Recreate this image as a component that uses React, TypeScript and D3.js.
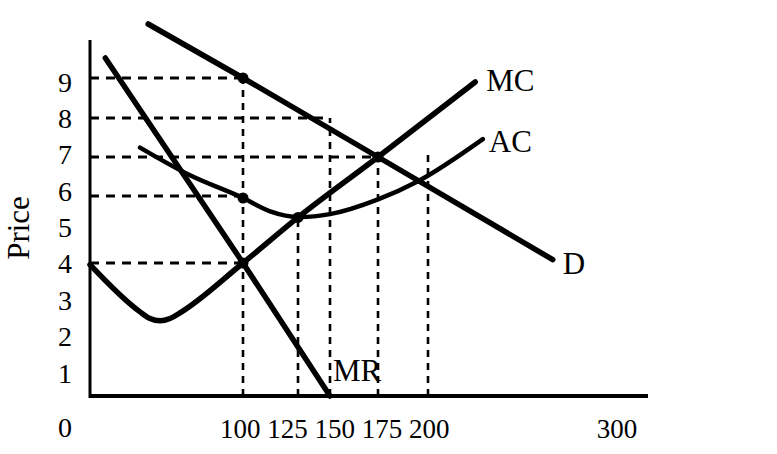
import React from 'react'
import { scaleLinear, line, curveMonotoneX } from 'd3'

// quantity / price readings taken off the diagram
const qtyTicks = [100, 125, 150, 175, 200]
const farTick = 300
const priceTicks = [1, 2, 3, 4, 5, 6, 7, 8, 9]

const demand: [number, number][] = [[38, 10.35], [100, 9], [175, 7], [266, 4.1]]
const marginalRevenue: [number, number][] = [[10, 9.5], [100, 4], [150, 0]]
const marginalCost: [number, number][] = [
  [0, 3.95], [32.7, 2.53], [39.2, 2.33], [45.8, 2.26], [52.3, 2.33], [58.8, 2.5],
  [100, 4], [125, 5.36], [175, 7], [225, 8.9]
]
const averageCost: [number, number][] = [
  [32.7, 7.24], [65.4, 6.53], [100, 5.94], [112, 5.55], [126.6, 5.37],
  [150, 5.46], [175, 5.9], [195, 6.38], [229, 7.46]
]
const keyPoints: [number, number][] = [[100, 9], [100, 5.94], [100, 4], [125, 5.36], [175, 7]]

// dashed guides: price level -> quantity where it stops, and quantity -> price where it stops
const priceGuides = [{ p: 9, q: 100 }, { p: 8, q: 150 }, { p: 7, q: 175 }, { p: 6, q: 100 }, { p: 4, q: 100 }]
const qtyGuides = [{ q: 100, p: 9 }, { q: 125, p: 5.36 }, { q: 150, p: 8 }, { q: 175, p: 7 }, { q: 200, p: 7.13 }]

const font = '"Liberation Serif", "Times New Roman", serif'

const App = () => {
  const width = 777
  const height = 454

  // the sketch is not drawn to a uniform scale, so both axes are piecewise
  const x = scaleLinear().domain([0, 100, 125, 150, 175, 200, 300]).range([90, 243, 298, 330, 378, 428, 617])
  const y = scaleLinear().domain([0, 4, 6, 7, 8, 9]).range([396, 263, 196, 157, 118, 78])
  const yLabel = scaleLinear().domain([1, 9]).range([373, 82])

  const straight = line<[number, number]>().x(d => x(d[0])).y(d => y(d[1]))
  const smooth = line<[number, number]>().x(d => x(d[0])).y(d => y(d[1])).curve(curveMonotoneX)

  const last = (arr: [number, number][]) => arr[arr.length - 1]

  return (
    <svg width={width} height={height} style={{ position: 'absolute', left: 0, top: 0, background: '#fff' }}>
      {/* dashed guides */}
      {priceGuides.map((g, i) => (
        <line key={'h' + i} x1={x(0)} x2={x(g.q)} y1={y(g.p)} y2={y(g.p)}
          stroke="#000" strokeWidth={3} strokeDasharray="9 7" />
      ))}
      {qtyGuides.map((g, i) => (
        <line key={'v' + i} x1={x(g.q)} x2={x(g.q)} y1={y(0)} y2={y(g.p)}
          stroke="#000" strokeWidth={2.6} strokeDasharray="7 6" />
      ))}

      {/* axes */}
      <line x1={x(0)} x2={x(0)} y1={40} y2={y(0) + 2} stroke="#000" strokeWidth={3} />
      <line x1={x(0)} x2={648} y1={y(0)} y2={y(0)} stroke="#000" strokeWidth={4} />

      {/* curves */}
      <path d={straight(demand) || ''} fill="none" stroke="#000" strokeWidth={5.5} strokeLinecap="round" />
      <path d={straight(marginalRevenue) || ''} fill="none" stroke="#000" strokeWidth={5.5} strokeLinecap="round" />
      <path d={smooth(marginalCost) || ''} fill="none" stroke="#000" strokeWidth={5.5} strokeLinecap="round" />
      <path d={smooth(averageCost) || ''} fill="none" stroke="#000" strokeWidth={4.5} strokeLinecap="round" />

      {keyPoints.map((d, i) => (
        <circle key={'pt' + i} cx={x(d[0])} cy={y(d[1])} r={5.5} fill="#000" />
      ))}

      {/* curve labels */}
      <g fontFamily={font} fontSize={31} fill="#000">
        <text x={x(last(marginalCost)[0]) + 11} y={y(last(marginalCost)[1]) + 9}>MC</text>
        <text x={x(last(averageCost)[0]) + 6} y={y(last(averageCost)[1]) + 13}>AC</text>
        <text x={x(last(demand)[0]) + 10} y={y(last(demand)[1]) + 14}>D</text>
        <text x={x(last(marginalRevenue)[0]) + 3} y={y(last(marginalRevenue)[1]) - 15}>MR</text>
      </g>

      {/* price tick labels */}
      <g fontFamily={font} fontSize={28} fill="#000" textAnchor="middle">
        {priceTicks.map(t => (
          <text key={t} x={65} y={yLabel(t) + 9.5}>{t}</text>
        ))}
        <text x={65} y={437}>0</text>
      </g>

      {/* quantity tick labels */}
      <g fontFamily={font} fontSize={27} fill="#000">
        <text x={x(qtyTicks[0]) - 23} y={438}>{qtyTicks.join(' ')}</text>
        <text x={x(farTick)} y={438} textAnchor="middle">{farTick}</text>
      </g>

      <text transform="translate(29,228) rotate(-90)" textAnchor="middle" fontFamily={font} fontSize={31} fill="#000">Price</text>
    </svg>
  )
}

export default App
